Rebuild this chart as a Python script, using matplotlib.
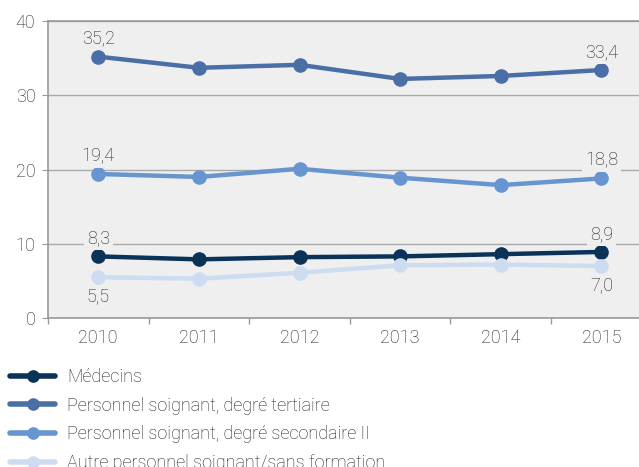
import matplotlib
matplotlib.use("Agg")
import matplotlib.pyplot as plt
import numpy as np

plt.rcParams['font.family'] = ['Roboto', 'DejaVu Sans']
plt.rcParams['font.weight'] = 'light'

years = ['2010', '2011', '2012', '2013', '2014', '2015']
medecins = [8.3, 7.9, 8.2, 8.3, 8.6, 8.9]
tertiaire = [35.2, 33.7, 34.1, 32.2, 32.6, 33.4]
secondaire = [19.4, 19.0, 20.1, 18.9, 17.9, 18.8]
autre = [5.5, 5.3, 6.1, 7.1, 7.2, 7.0]

names = ['Médecins',
         'Personnel soignant, degré tertiaire',
         'Personnel soignant, degré secondaire II',
         'Autre personnel soignant/sans formation']
series = [medecins, tertiaire, secondaire, autre]
colors = ['#0b3257', '#4a6ea6', '#6795d0', '#cddcf1']
# label placement for first/last value: above or below
where = ['above', 'above', 'above', 'below']

bg = '#efefef'
txtc = '#1e1e1e'
fig = plt.figure(figsize=(6.39, 4.67), dpi=100)
ax = fig.add_axes([0.075, 0.319, 0.945, 0.636])
ax.set_facecolor(bg)

x = np.arange(len(years))
handles = []
for vals, c, nm, w in zip(series, colors, names, where):
    h, = ax.plot(x, vals, color=c, lw=3.2, marker='o', ms=9.5, label=nm,
                 solid_capstyle='round', zorder=3)
    handles.append(h)
    for i in (0, len(x) - 1):
        txt = f'{vals[i]:.1f}'.replace('.', ',')
        off = 13 if w == 'above' else -14
        ax.annotate(txt, (x[i], vals[i]), xytext=(0, off), textcoords='offset points',
                    ha='center', va='center', fontsize=13, color=txtc,
                    bbox=dict(boxstyle='square,pad=0.15', fc=bg, ec='none'), zorder=4)

ax.set_xlim(-0.5, 5.5)
ax.set_ylim(0, 40)
ax.set_yticks([0, 10, 20, 30, 40])
ax.set_xticks(x)
ax.set_xticklabels(years)
ax.set_xticks(np.arange(-0.5, 6, 1), minor=True)
ax.tick_params(axis='x', which='major', length=0, pad=8, labelsize=13, labelcolor=txtc)
ax.tick_params(axis='x', which='minor', length=4, color='#999999', width=1)
ax.tick_params(axis='y', length=4, color='#999999', labelsize=13, labelcolor=txtc, pad=5)
ax.grid(axis='y', color='#aaaaaa', lw=1, zorder=1)
ax.set_axisbelow(True)
for s in ['left', 'bottom', 'top']:
    ax.spines[s].set_color('#999999')
    ax.spines[s].set_linewidth(1.2)
ax.spines['right'].set_visible(False)

leg = fig.legend(handles=handles, loc='upper left', bbox_to_anchor=(10 / 639, 0.212),
                 frameon=False, fontsize=13, handlelength=2.5, handletextpad=0.67,
                 labelspacing=0.59, borderaxespad=0, borderpad=0, labelcolor=txtc,
                 markerscale=0.85)
for ln in leg.get_lines():
    ln.set_linewidth(4)

fig.savefig('out.png', dpi=100)
